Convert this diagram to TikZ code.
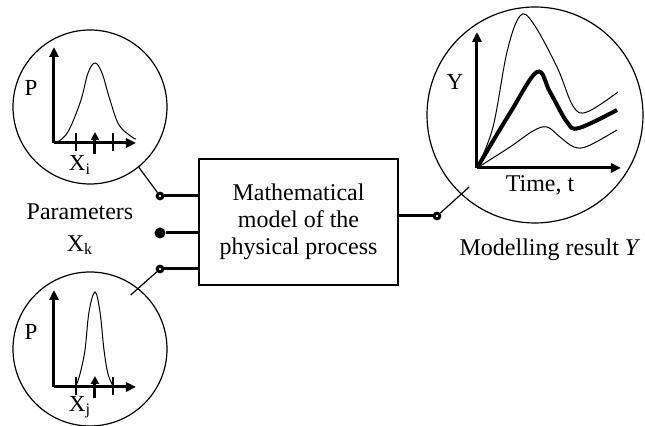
\documentclass[tikz,border=0pt]{standalone}
\usepackage{fontspec}
\setmainfont{Liberation Serif}
\usetikzlibrary{arrows.meta,calc}
\begin{document}
\begin{tikzpicture}[x=0.5pt,y=-0.5pt,
  lens/.style={draw,circle,line width=0.6pt,inner sep=0pt},
  axis/.style={line width=1.5pt,-{Triangle[length=5pt,width=4.5pt]}},
  tick/.style={line width=0.6pt},
  thin curve/.style={line width=0.5pt},
  lbl/.style={font=\fontsize{11.5}{13}\selectfont,inner sep=0pt},
  txt/.style={font=\fontsize{12}{13.5}\selectfont,inner sep=0pt},
  ringdot/.style={circle,draw,fill=white,line width=1.5pt,minimum size=2.8pt,inner sep=0pt},
  fulldot/.style={circle,fill,minimum size=5.5pt,inner sep=0pt},
  wire/.style={line width=1.5pt},
  leader/.style={line width=0.6pt}]
\useasboundingbox (0,0) rectangle (645,426);

% lenses
\node[lens,minimum size=77pt] (circI) at (90,107) {};
\node[lens,minimum size=77pt] (circJ) at (90,349) {};
\node[lens,minimum size=108pt] (circY) at (535,115) {};

% model box
\node[draw,line width=1pt,minimum width=99.5pt,minimum height=63pt,align=center,txt] (model) at (298.5,222)
  {Mathematical\\model of the\\physical process};

% dots
\node[ringdot] (dotA) at (160,196) {};
\node[fulldot] (dotB) at (160,233) {};
\node[ringdot] (dotC) at (160,269) {};
\node[ringdot] (dotY) at (437,216) {};

% wires
\draw[wire] (dotA) -- (model.west |- dotA);
\draw[wire] (dotB) -- (model.west |- dotB);
\draw[wire] (dotC) -- (model.west |- dotC);
\draw[wire] (model.east |- dotY) -- (dotY);

% leaders
\draw[leader] (circI.-51) -- (dotA);
\coordinate (endJ) at ($(circJ.53)!5pt!(circJ.center)$);
\draw[leader] (dotC) -- (endJ);
\coordinate (endY) at ($(dotY)!1.35!(circY.-133)$);
\draw[leader] (dotY) -- (endY);

% labels
\node[txt] (par) at (80,212) {Parameters};
\node[txt] (xk) at (80,245) {X\textsubscript{k}};
\node[txt] (res) at (550,250) {Modelling result \textit{Y}};

% top-left plot
\draw[axis] (54,143) -- (54,47);
\draw[axis] (54,143) -- (136,143);
\draw[tick] (76,133) -- (76,151);
\draw[tick] (113,133) -- (113,151);
\draw[line width=1.5pt,-{Triangle[length=4pt,width=4pt]}] (95,154) -- (95,132);
\draw[thin curve] plot[smooth,tension=0.6] coordinates {(54,143) (62,139) (70,128) (81,100) (88,73) (95,63) (102,73) (110,100) (119,125) (132,137) (136,139)};
\node[lbl] (pI) at (31,88) {P};
\node[lbl] (xI) at (80,165) {X\textsubscript{i}};

% bottom-left plot
\draw[axis] (54,387) -- (54,290);
\draw[axis] (54,387) -- (136,387);
\draw[tick] (76,377) -- (76,395);
\draw[tick] (113,377) -- (113,395);
\draw[line width=1.5pt,-{Triangle[length=4pt,width=4pt]}] (95,398) -- (95,376);
\draw[thin curve] plot[smooth,tension=0.6] coordinates {(76,386) (80,374) (85,350) (89,312) (95,292) (100,312) (104,350) (108,374) (113,386)};
\node[lbl] (pJ) at (31,332) {P};
\node[lbl] (xJ) at (80,407) {X\textsubscript{j}};

% right plot
\draw[axis] (477,168) -- (477,32);
\draw[axis] (477,168) -- (621,168);
\draw[thin curve] plot[smooth,tension=0.6] coordinates {(477,168) (493,127) (507,52) (520,16) (533,23) (557,67) (573,106) (587,112) (618,92)};
\draw[line width=2pt] plot[smooth,tension=0.6] coordinates {(477,168) (510,113) (537,72) (550,92) (567,122) (579,128) (617,110)};
\draw[thin curve] plot[smooth,tension=0.6] coordinates {(477,168) (510,147) (533,131) (547,127) (560,137) (574,147) (588,146) (617,130)};
\node[lbl] (yl) at (455,82) {Y};
\node[txt] (tl) at (540,185) {Time, t};
\end{tikzpicture}
\end{document}
